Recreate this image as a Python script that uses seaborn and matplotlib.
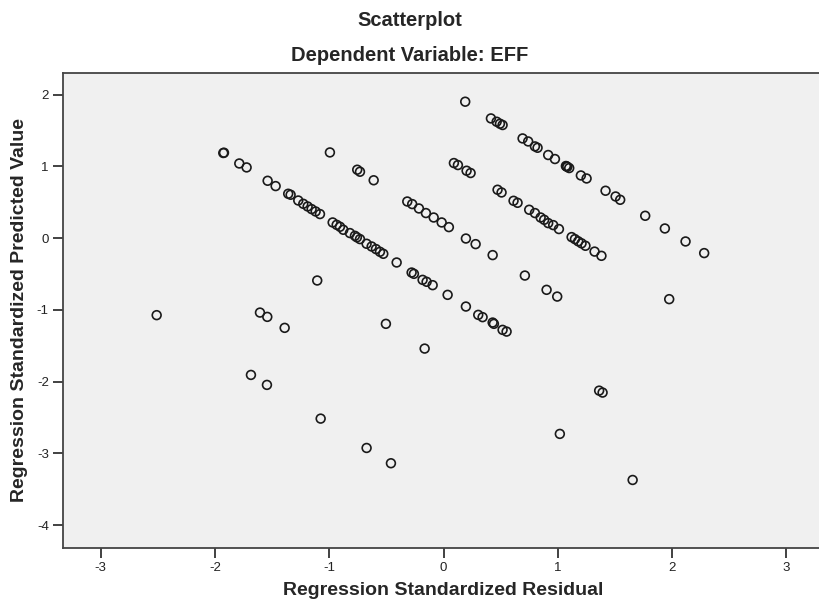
import matplotlib
matplotlib.use("Agg")
import matplotlib.pyplot as plt
import seaborn as sns
import pandas as pd

# Regression standardized residuals (x) and predicted values (y)
residual = [
    0.189, 0.414, 0.464, 0.493, 0.516, 0.691, 0.740, 0.799, 0.822, 0.915, 0.974,
    1.070, 1.076, 1.082, 1.099, 1.201, 1.251, 1.417, 1.505, 1.545, 1.764, 1.936,
    2.117, 2.280,
    0.090, 0.125, 0.201, 0.236, 0.472, 0.507, 0.612, 0.647, 0.749, 0.799, 0.849,
    0.880, 0.915, 0.959, 1.009, 1.120, 1.149, 1.178, 1.207, 1.241, 1.321, 1.381,
    -0.995, -0.756, -0.732, -0.612, -0.318, -0.275, -0.216, -0.155, -0.087, -0.017,
    0.046, 0.195, 0.280, 0.429, 0.711, 0.901, 0.994, 1.974,
    -1.928, -1.922, -1.788, -1.724, -1.540, -1.470, -1.360, -1.339, -1.272, -1.228,
    -1.190, -1.155, -1.120, -1.082, -0.971, -0.936, -0.907, -0.878, -0.820, -0.776,
    -0.759, -0.732, -0.674, -0.630, -0.592, -0.557, -0.528, -0.411, -0.280, -0.260,
    -0.184, -0.149, -0.096, 0.035, 0.195, 0.303, 0.341, 0.429, 0.440, 0.516, 0.551,
    -2.511, -1.607, -1.543, -1.391, -1.686, -1.546, -1.106, -0.505, -0.166, -1.076,
    -0.674, -0.461, 1.361, 1.391, 1.017, 1.654,
]
predicted = [
    1.901, 1.668, 1.622, 1.594, 1.576, 1.389, 1.347, 1.278, 1.259, 1.158, 1.102,
    1.005, 0.999, 0.993, 0.976, 0.873, 0.831, 0.660, 0.580, 0.534, 0.311, 0.134,
    -0.047, -0.209,
    1.046, 1.018, 0.939, 0.907, 0.674, 0.636, 0.520, 0.492, 0.395, 0.349, 0.287,
    0.255, 0.209, 0.181, 0.126, 0.014, -0.014, -0.045, -0.073, -0.107, -0.188, -0.247,
    1.194, 0.953, 0.925, 0.806, 0.510, 0.474, 0.413, 0.349, 0.287, 0.218,
    0.153, -0.006, -0.084, -0.237, -0.522, -0.721, -0.815, -0.851,
    1.186, 1.190, 1.040, 0.985, 0.799, 0.725, 0.618, 0.604, 0.524, 0.478,
    0.441, 0.404, 0.371, 0.335, 0.218, 0.185, 0.158, 0.116, 0.070, 0.032,
    0.011, -0.014, -0.079, -0.117, -0.153, -0.191, -0.219, -0.340, -0.480, -0.498,
    -0.582, -0.609, -0.656, -0.791, -0.954, -1.070, -1.102, -1.177, -1.195, -1.279, -1.303,
    -1.074, -1.038, -1.098, -1.251, -1.907, -2.046, -0.591, -1.195, -1.540, -2.516,
    -2.925, -3.138, -2.126, -2.153, -2.729, -3.371,
]
x_ticks = [-3, -2, -1, 0, 1, 2, 3]
y_ticks = [2, 1, 0, -1, -2, -3, -4]

df = pd.DataFrame({"resid": residual, "pred": predicted})

sns.set_style("white")
plt.rcParams["font.family"] = ["Liberation Sans", "DejaVu Sans"]

fig = plt.figure(figsize=(8.2, 6.07), dpi=100)
ax = fig.add_axes([0.0765, 0.0977, 0.929, 0.7825])
ax.set_facecolor("#f0f0f0")

sns.scatterplot(data=df, x="resid", y="pred", ax=ax, marker="o", s=40,
                color="black", linewidth=1.2, legend=False)
coll = ax.collections[0]
coll.set_facecolor("none")
coll.set_edgecolor("#1a1a1a")

ax.set_xlim(-3.333, 3.333)
ax.set_ylim(-4.315, 2.305)
ax.set_xticks(x_ticks)
ax.set_yticks(y_ticks)
ax.set_xticklabels([str(t) for t in x_ticks])
ax.set_yticklabels([str(t) for t in y_ticks])
ax.tick_params(axis="both", direction="out", length=7, width=1.3, color="#333333",
               labelsize=9.5, labelcolor="#222222", pad=3)
ax.tick_params(bottom=True, left=True)

for side in ["top", "bottom", "left", "right"]:
    ax.spines[side].set_color("#444444")
    ax.spines[side].set_linewidth(1.3)

ax.set_xlabel("Regression Standardized Residual", fontsize=14, fontweight="bold")
ax.set_ylabel("Regression Standardized Predicted Value", fontsize=14, fontweight="bold")
ax.xaxis.set_label_coords(0.5, -0.073)
ax.yaxis.set_label_coords(-0.046, 0.5)

fig.text(0.5, 0.966, "Scatterplot", ha="center", va="center", fontsize=14.5, fontweight="bold")
fig.text(0.5, 0.899, "Dependent Variable: EFF", ha="center", va="baseline",
         fontsize=14.5, fontweight="bold")

fig.savefig("out.png", dpi=100)
